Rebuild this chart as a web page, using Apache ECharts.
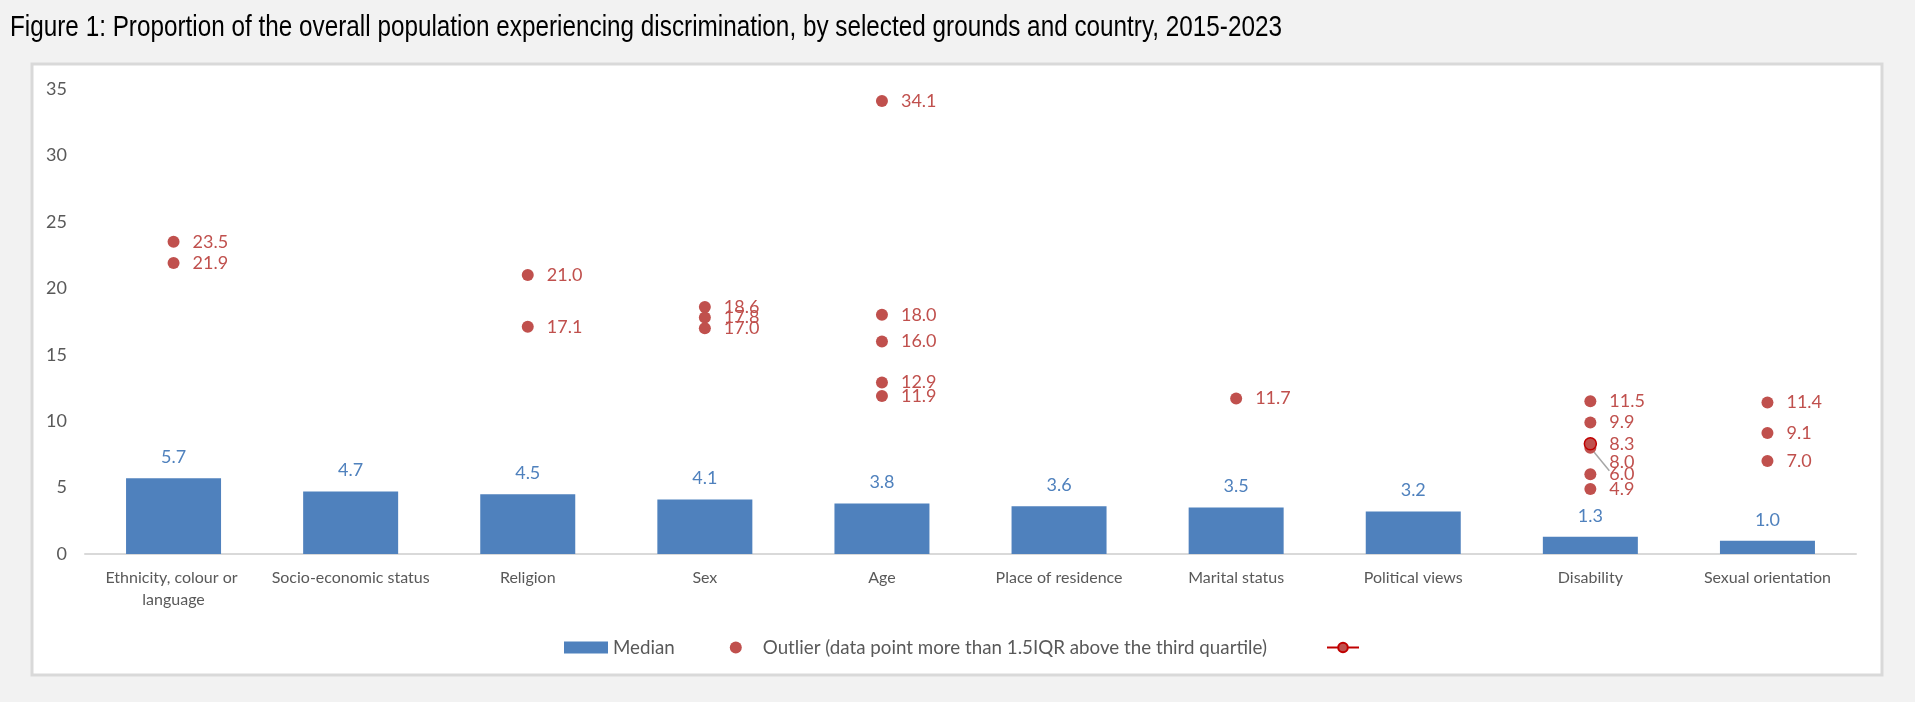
<!DOCTYPE html>
<html>
<head>
<meta charset="utf-8">
<script src="https://cdn.jsdelivr.net/npm/echarts@6/dist/echarts.min.js"></script>
<style>
  html, body { margin: 0; padding: 0; background: #f2f2f2; }
  #chart { width: 1915px; height: 702px; }
</style>
</head>
<body>
<div id="chart"></div>
<script>
// grounds of discrimination (x axis)
const categories = ['Ethnicity, colour or language', 'Socio-economic status', 'Religion', 'Sex', 'Age',
  'Place of residence', 'Marital status', 'Political views', 'Disability', 'Sexual orientation']
// median across countries
const medians = [5.7, 4.7, 4.5, 4.1, 3.8, 3.6, 3.5, 3.2, 1.3, 1.0]
// outliers per ground, same order as categories
const outliers = [
  [23.5, 21.9],
  [],
  [21.0, 17.1],
  [18.6, 17.8, 17.0],
  [34.1, 18.0, 16.0, 12.9, 11.9],
  [],
  [11.7],
  [],
  [11.5, 9.9, 8.3, 8.0, 6.0, 4.9],
  [11.4, 9.1, 7.0]
]
// third (unlabelled) series, one marked point
const marked = ['-', '-', '-', '-', '-', '-', '-', '-', 8.3, '-']
const yTicks = { min: 0, max: 35, step: 5 }

const titleText = 'Figure 1: Proportion of the overall population experiencing discrimination, by selected grounds and country, 2015-2023'
const outlierName = 'Outlier (data point more than 1.5IQR above the third quartile)'
const txt = '#595959'
const font = 'Lato, "Open Sans", sans-serif'

// no narrow font installed: squeeze a regular one to the original title width
const titleFont = '29px "Liberation Sans", Arial, sans-serif'
const ctx = document.createElement('canvas').getContext('2d')
ctx.font = titleFont
const titleScale = 1272 / ctx.measureText(titleText).width

// scatter points, the 8.0 label under disability was pushed down in the original
let outlierData = []
outliers.forEach(function (vals, i) {
  vals.forEach(function (v) {
    let item = { value: [categories[i], v] }
    if (i === 8 && v === 8.0) {
      item.label = { offset: [0, 14] }
      item.labelLine = { show: true, lineStyle: { color: '#a6a6a6', width: 1.5 } }
    }
    outlierData.push(item)
  })
})

const chart = echarts.init(document.getElementById('chart'))
chart.setOption({
  backgroundColor: '#f2f2f2',
  animation: false,
  textStyle: { fontFamily: font },
  graphic: [
    {
      type: 'rect',
      z: -10,
      shape: { x: 32, y: 64, width: 1850, height: 611 },
      style: { fill: '#ffffff', stroke: '#d9d9d9', lineWidth: 3 }
    },
    {
      type: 'text',
      x: 10,
      y: 28,
      scaleX: titleScale,
      style: {
        text: titleText,
        font: titleFont,
        fill: '#000000',
        verticalAlign: 'middle'
      }
    }
  ],
  legend: [
    {
      left: 564,
      top: 638,
      padding: 0,
      itemWidth: 44,
      itemHeight: 12,
      itemGap: 55,
      textStyle: { color: txt, fontSize: 18.75, fontFamily: font },
      data: [
        { name: 'Median', icon: 'rect' },
        { name: outlierName, icon: 'circle' }
      ]
    },
    {
      left: 1326,
      top: 638,
      padding: 0,
      itemWidth: 32,
      itemHeight: 12,
      textStyle: { color: txt, fontSize: 18.75, fontFamily: font },
      data: [{ name: ' ' }]
    }
  ],
  grid: { left: 85, right: 59, top: 89, bottom: 148 },
  xAxis: {
    type: 'category',
    data: categories,
    axisLine: { lineStyle: { color: '#d9d9d9', width: 2 } },
    axisTick: { show: false },
    axisLabel: {
      color: txt,
      fontSize: 16,
      lineHeight: 22,
      margin: 13,
      interval: 0,
      width: 168,
      overflow: 'break'
    }
  },
  yAxis: {
    type: 'value',
    min: yTicks.min,
    max: yTicks.max,
    interval: yTicks.step,
    splitLine: { show: false },
    axisLine: { show: false },
    axisTick: { show: false },
    axisLabel: { color: txt, fontSize: 18, margin: 18 }
  },
  series: [
    {
      name: 'Median',
      type: 'bar',
      data: medians,
      barWidth: 95,
      itemStyle: { color: '#4f81bd' },
      label: {
        show: true,
        position: 'top',
        distance: 12,
        color: '#4f81bd',
        fontSize: 18,
        formatter: function (p) { return p.value.toFixed(1) }
      }
    },
    {
      name: outlierName,
      type: 'scatter',
      data: outlierData,
      symbolSize: 12,
      itemStyle: { color: '#c0504d', opacity: 1 },
      label: {
        show: true,
        position: 'right',
        distance: 13,
        color: '#c0504d',
        fontSize: 18,
        formatter: function (p) { return p.value[1].toFixed(1) }
      }
    },
    {
      name: ' ',
      type: 'line',
      data: marked,
      symbol: 'circle',
      symbolSize: 12,
      showAllSymbol: true,
      z: 5,
      lineStyle: { color: '#c00000', width: 4 },
      itemStyle: { color: '#c0504d', borderColor: '#c00000', borderWidth: 1.5 }
    }
  ]
})
</script>
</body>
</html>
